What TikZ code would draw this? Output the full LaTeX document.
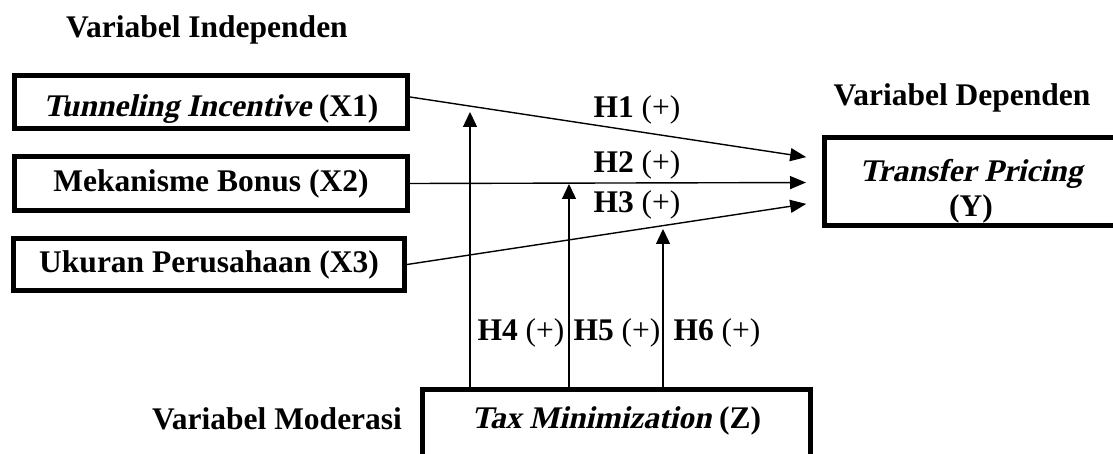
\documentclass[tikz,border=0pt]{standalone}
\usepackage{fontspec}
\setmainfont{Liberation Serif}
\newfontfamily\slantfont{Liberation Serif}[FakeSlant=0.22]
\newcommand{\bit}[1]{{\slantfont\bfseries #1}}
\newcommand{\lowered}[2]{\raisebox{-#1}[0pt][0pt]{#2}}
\usepackage{tikz}
\usetikzlibrary{arrows.meta}

\begin{document}
\begin{tikzpicture}[x=1pt,y=-1pt,
        every node/.style={font=\fontsize{31.5}{35}\selectfont},
        varbox/.style={draw,line width=5pt,rectangle,inner sep=0pt},
        hyp/.style={line width=1.4pt,-{Triangle[length=16pt,width=13pt]}},
        modarrow/.style={line width=1.4pt,-{Triangle[length=15pt,width=14pt]}},
        hlabel/.style={inner sep=0pt}]
        \useasboundingbox (0,0) rectangle (1113,454);
        \clip (0,0) rectangle (1113,454);

        \node[inner sep=0pt] (tIndep) at (207,30){\textbf{Variabel Independen}};
        \node[inner sep=0pt] (tDep) at (962,98){\textbf{Variabel Dependen}};
        \node[inner sep=0pt] (tMod) at (277,419){\textbf{Variabel Moderasi}};

        \node[varbox,minimum width=393pt,minimum height=53pt] (X1) at (211,102){\lowered{15pt}{\bit{Tunneling Incentive} \textbf{(X1)}}};
        \node[varbox,minimum width=393pt,minimum height=54pt] (X2) at (211,183.5){\textbf{Mekanisme Bonus (X2)}};
        \node[varbox,minimum width=391pt,minimum height=52pt] (X3) at (209,264.5){\textbf{Ukuran Perusahaan (X3)}};
        \node[varbox,minimum width=293pt,minimum height=88pt] (Y) at (971,181.5){\lowered{17pt}{\begin{tabular}{@{}c@{}}\bit{Transfer Pricing}\\\textbf{(Y)}\end{tabular}}};
        \node[varbox,minimum width=388pt,minimum height=96pt,text height=22pt,text depth=40pt] (Z) at (616.5,437){\bit{Tax Minimization} \textbf{(Z)}};

        \coordinate (M1) at (470,112);
        \coordinate (M2) at (569,184);
        \coordinate (M3) at (663,229);

        \draw[hyp,shorten >=16pt] ([yshift=5pt]X1.east) -- ([yshift=22pt]Y.west);
        \draw[hyp,shorten >=16pt] (X2.east) -- ([yshift=-1pt]Y.west);
        \draw[hyp,shorten >=16pt] (X3.east) -- ([yshift=-20pt]Y.west);
        \draw[modarrow] (Z.north -| M1) -- (M1);
        \draw[modarrow] (Z.north -| M2) -- (M2);
        \draw[modarrow] (Z.north -| M3) -- (M3);

        \node[hlabel] (H1) at (637,110){\textbf{H1} (+)};
        \node[hlabel] (H2) at (637,165){\textbf{H2} (+)};
        \node[hlabel] (H3) at (637,205){\textbf{H3} (+)};
        \node[hlabel] (H4) at (521,333){\textbf{H4} (+)};
        \node[hlabel] (H5) at (617,333){\textbf{H5} (+)};
        \node[hlabel] (H6) at (717,333){\textbf{H6} (+)};
\end{tikzpicture}
\end{document}
